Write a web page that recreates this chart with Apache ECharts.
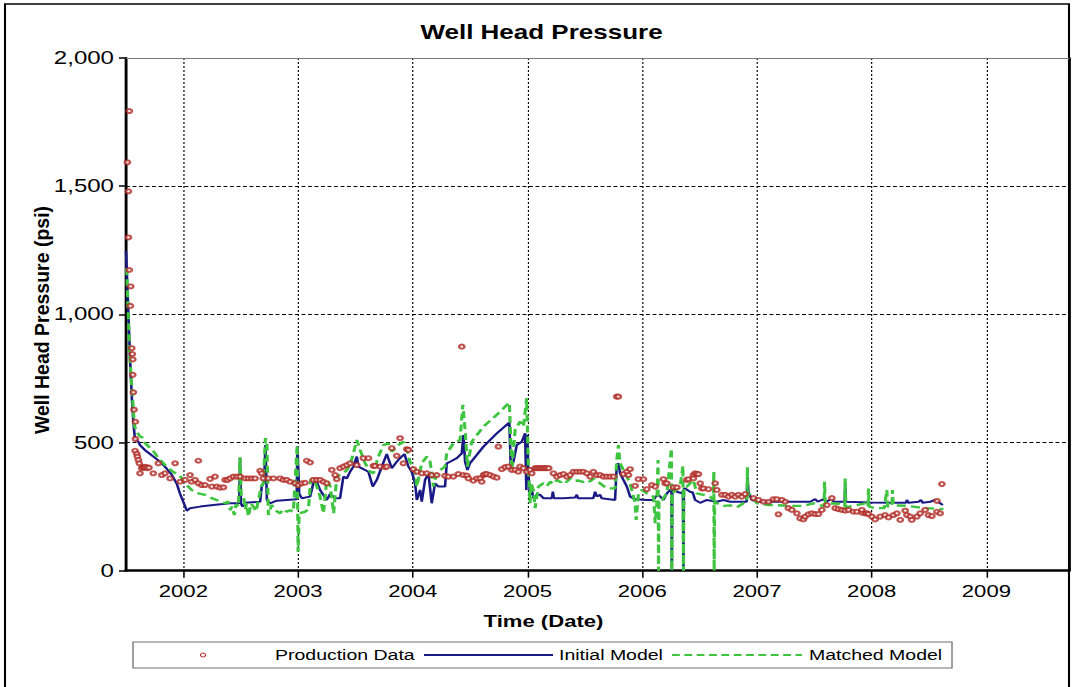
<!DOCTYPE html>
<html>
<head>
<meta charset="utf-8">
<script src="https://cdn.jsdelivr.net/npm/echarts@6/dist/echarts.min.js"></script>
<style>
  html, body { margin: 0; padding: 0; background: #fff; overflow: hidden; }
  #wrap { width: 1072px; height: 687px; overflow: hidden; }
  #chart { height: 687px; transform-origin: 0 0; }
</style>
</head>
<body>
<div id="wrap"><div id="chart"></div></div>
<script>
// The chart is laid out in a narrower box and widened with CSS,
// which gives the broad lettering and oval markers of the original plot.
const STRETCH = 1.3;
const FULL_W = 1072, FULL_H = 687;
const sx = v => v / STRETCH;

const TITLE = 'Well Head Pressure';
const X_NAME = 'Time (Date)';
const Y_NAME = 'Well Head Pressure (psi)';
const SERIES_NAMES = ['Production Data', 'Initial Model', 'Matched Model'];

// x axis: decimal years
const X_MIN = 2001.5, X_MAX = 2009.72;
const yearTicks = [2002, 2003, 2004, 2005, 2006, 2007, 2008, 2009];
const pressureTicks = [0, 500, 1000, 1500, 2000];

// measured well head pressure [year, psi]
const productionData = [
  [2001.529,1793],[2001.512,1593],[2001.521,1480],[2001.521,1300],[2001.529,1173],[2001.541,1109],
  [2001.538,1033],[2001.550,868],[2001.555,845],[2001.559,824],[2001.559,764],[2001.564,696],
  [2001.570,628],[2001.582,581],[2001.582,514],[2001.579,468],[2001.594,456],[2001.599,445],
  [2001.608,432],[2001.616,419],[2001.637,400],[2001.622,380],[2001.649,404],[2001.660,402],
  [2001.672,405],[2001.684,400],[2001.700,402],[2001.738,380],[2001.782,419],[2001.812,373],
  [2001.840,380],[2001.884,360],[2001.928,419],[2001.971,347],[2002.015,354],[2002.058,373],
  [2002.073,347],[2002.102,354],[2002.131,429],[2002.131,341],[2002.160,334],[2002.189,334],
  [2002.233,358],[2002.248,328],[2002.276,367],[2002.291,328],[2002.320,324],[2002.349,325],
  [2002.364,354],[2002.385,354],[2002.407,360],[2002.436,367],[2002.466,367],[2002.494,367],
  [2002.538,360],[2002.567,360],[2002.596,360],[2002.625,360],[2002.669,390],[2002.683,380],
  [2002.697,360],[2002.741,360],[2002.785,360],[2002.843,360],[2002.872,354],[2002.901,354],
  [2002.930,347],[2002.974,341],[2003.003,334],[2003.032,341],[2003.061,343],[2003.076,429],
  [2003.105,422],[2003.133,354],[2003.163,354],[2003.192,354],[2003.221,347],[2003.250,341],
  [2003.294,393],[2003.323,373],[2003.337,357],[2003.366,400],[2003.395,406],[2003.425,412],
  [2003.453,419],[2003.512,412],[2003.569,439],[2003.613,439],[2003.657,409],[2003.671,409],
  [2003.715,406],[2003.758,404],[2003.773,406],[2003.817,478],[2003.889,517],[2003.860,448],
  [2003.918,419],[2003.948,474],[2003.962,471],[2004.005,396],[2004.035,386],[2004.078,380],
  [2004.122,380],[2004.165,373],[2004.209,373],[2004.281,370],[2004.310,367],[2004.354,367],
  [2004.397,377],[2004.427,874],[2004.441,373],[2004.471,371],[2004.485,360],[2004.528,351],
  [2004.558,360],[2004.587,360],[2004.601,347],[2004.616,373],[2004.630,377],[2004.645,377],
  [2004.674,373],[2004.703,367],[2004.732,363],[2004.746,484],[2004.776,396],[2004.805,404],
  [2004.833,406],[2004.863,393],[2004.892,393],[2004.920,386],[2004.935,406],[2004.964,400],
  [2004.993,386],[2005.022,393],[2005.037,380],[2005.066,400],[2005.080,400],[2005.095,400],
  [2005.110,400],[2005.125,400],[2005.140,400],[2005.155,400],[2005.170,400],[2005.185,400],
  [2005.226,380],[2005.255,367],[2005.284,373],[2005.313,377],[2005.343,367],[2005.371,373],
  [2005.400,386],[2005.430,386],[2005.459,386],[2005.487,386],[2005.517,380],[2005.546,367],
  [2005.574,386],[2005.604,373],[2005.633,373],[2005.662,367],[2005.691,367],[2005.720,367],
  [2005.749,367],[2005.778,679],[2005.792,679],[2005.836,377],[2005.866,386],[2005.880,373],
  [2005.894,396],[2005.938,331],[2005.967,357],[2006.010,357],[2006.040,318],[2006.084,334],
  [2006.113,328],[2006.185,357],[2006.200,341],[2006.215,341],[2006.272,325],[2006.302,325],
  [2006.389,354],[2006.403,357],[2006.446,373],[2006.446,360],[2006.461,380],[2006.476,377],
  [2006.490,377],[2006.505,341],[2006.519,321],[2006.534,321],[2006.577,318],[2006.636,341],
  [2006.650,315],[2006.694,296],[2006.723,296],[2006.752,289],[2006.781,296],[2006.810,289],
  [2006.839,296],[2006.868,289],[2006.897,299],[2006.970,283],[2007.013,276],[2007.057,269],
  [2007.101,269],[2007.144,279],[2007.173,279],[2007.187,220],[2007.217,276],[2007.246,269],
  [2007.274,244],[2007.304,237],[2007.348,224],[2007.376,204],[2007.405,200],[2007.420,211],
  [2007.449,220],[2007.478,224],[2007.507,221],[2007.536,221],[2007.566,237],[2007.610,256],
  [2007.653,283],[2007.682,244],[2007.710,240],[2007.740,237],[2007.769,234],[2007.798,237],
  [2007.841,230],[2007.871,230],[2007.915,226],[2007.915,237],[2007.943,224],[2007.958,224],
  [2007.972,221],[2008.002,211],[2008.030,200],[2008.074,211],[2008.117,217],[2008.147,208],
  [2008.190,217],[2008.220,224],[2008.249,198],[2008.292,234],[2008.307,217],[2008.336,211],
  [2008.350,198],[2008.394,211],[2008.423,224],[2008.466,237],[2008.495,217],[2008.525,213],
  [2008.569,230],[2008.597,224],[2008.569,272],[2008.612,338]
];

// initial simulation model [year, psi]
const initialModel = [
  [2001.500,1247],[2001.521,1000],[2001.538,797],[2001.552,666],[2001.564,580],[2001.576,523],
  [2001.590,510],[2001.608,503],[2001.622,490],[2001.666,470],[2001.710,455],[2001.753,440],
  [2001.797,425],[2001.855,398],[2001.898,375],[2001.942,340],[2001.971,300],[2002.000,268],
  [2002.030,234],[2002.058,244],[2002.146,250],[2002.262,256],[2002.407,263],[2002.487,263],
  [2002.494,440],[2002.502,263],[2002.516,250],[2002.538,265],[2002.669,269],[2002.683,328],
  [2002.704,347],[2002.716,490],[2002.728,276],[2002.755,263],[2002.814,273],[2002.988,279],
  [2002.994,484],[2003.010,300],[2003.032,283],[2003.105,289],[2003.133,341],[2003.163,347],
  [2003.192,315],[2003.250,276],[2003.280,300],[2003.323,283],[2003.366,283],[2003.395,367],
  [2003.425,360],[2003.453,386],[2003.482,406],[2003.512,445],[2003.526,406],[2003.569,396],
  [2003.613,386],[2003.651,328],[2003.686,354],[2003.730,406],[2003.773,455],[2003.817,400],
  [2003.860,425],[2003.889,439],[2003.927,455],[2003.962,406],[2003.991,386],[2004.020,341],
  [2004.035,276],[2004.064,315],[2004.078,269],[2004.107,354],[2004.136,380],[2004.165,263],
  [2004.194,341],[2004.223,328],[2004.281,328],[2004.296,419],[2004.325,425],[2004.384,439],
  [2004.427,458],[2004.441,529],[2004.456,425],[2004.476,393],[2004.499,419],[2004.616,484],
  [2004.732,536],[2004.842,578],[2004.854,400],[2004.877,425],[2004.906,490],[2004.950,503],
  [2004.979,536],[2004.990,315],[2004.998,530],[2005.007,380],[2005.022,296],[2005.037,315],
  [2005.051,283],[2005.081,296],[2005.110,296],[2005.139,283],[2005.212,283],[2005.221,308],
  [2005.230,283],[2005.313,283],[2005.415,286],[2005.430,296],[2005.440,283],[2005.574,283],
  [2005.589,308],[2005.604,290],[2005.633,296],[2005.645,283],[2005.763,276],[2005.778,412],
  [2005.792,419],[2005.807,380],[2005.836,354],[2005.866,328],[2005.894,289],[2005.938,279],
  [2006.040,276],[2006.098,276],[2006.120,290],[2006.142,296],[2006.185,276],[2006.215,302],
  [2006.243,315],[2006.255,318],[2006.258,0],[2006.262,320],[2006.272,321],[2006.302,308],
  [2006.345,302],[2006.355,310],[2006.359,0],[2006.363,320],[2006.374,321],[2006.417,308],
  [2006.440,305],[2006.461,276],[2006.505,265],[2006.563,276],[2006.650,269],[2006.708,276],
  [2006.766,269],[2006.853,269],[2006.910,269],[2006.917,364],[2006.926,308],[2006.955,276],
  [2006.999,269],[2007.289,269],[2007.464,269],[2007.507,279],[2007.530,269],[2007.580,279],
  [2007.600,269],[2007.653,279],[2007.670,269],[2007.765,269],[2007.769,340],[2007.775,269],
  [2007.987,266],[2008.190,265],[2008.300,265],[2008.307,276],[2008.320,265],[2008.409,269],
  [2008.429,276],[2008.445,265],[2008.510,269],[2008.554,276],[2008.597,263],[2008.620,256]
];

// history-matched simulation model [year, psi]
const matchedModel = [
  [2001.506,1180],[2001.523,959],[2001.529,865],[2001.544,763],[2001.559,662],[2001.573,568],
  [2001.588,547],[2001.616,527],[2001.640,520],[2001.666,497],[2001.730,471],[2001.797,432],
  [2001.855,406],[2001.913,385],[2001.971,370],[2002.015,341],[2002.073,315],[2002.131,302],
  [2002.189,296],[2002.248,283],[2002.305,273],[2002.364,263],[2002.390,270],[2002.410,236],
  [2002.422,250],[2002.445,217],[2002.460,260],[2002.480,250],[2002.494,442],[2002.505,289],
  [2002.525,289],[2002.540,240],[2002.552,263],[2002.567,211],[2002.590,262],[2002.610,250],
  [2002.635,232],[2002.654,276],[2002.680,330],[2002.697,341],[2002.715,517],[2002.728,500],
  [2002.741,217],[2002.770,256],[2002.800,236],[2002.843,224],[2002.870,240],[2002.901,230],
  [2002.930,236],[2002.959,230],[2002.992,490],[2003.000,74],[2003.010,224],[2003.061,230],
  [2003.090,240],[2003.110,354],[2003.133,360],[2003.163,330],[2003.192,289],[2003.221,224],
  [2003.250,354],[2003.280,330],[2003.310,224],[2003.337,367],[2003.395,380],[2003.425,393],
  [2003.453,412],[2003.482,458],[2003.512,510],[2003.541,471],[2003.584,419],[2003.628,386],
  [2003.657,380],[2003.700,445],[2003.744,490],[2003.787,497],[2003.817,464],[2003.874,490],
  [2003.918,503],[2003.948,471],[2003.976,425],[2004.020,393],[2004.035,328],[2004.078,419],
  [2004.122,445],[2004.151,425],[2004.180,328],[2004.209,380],[2004.238,393],[2004.281,406],
  [2004.296,458],[2004.354,497],[2004.412,510],[2004.436,647],[2004.456,549],[2004.476,406],
  [2004.514,503],[2004.616,562],[2004.732,608],[2004.842,656],[2004.863,393],[2004.892,549],
  [2004.935,582],[2004.964,562],[2004.993,673],[2005.007,406],[2005.022,263],[2005.030,341],
  [2005.051,315],[2005.066,244],[2005.095,328],[2005.139,341],[2005.170,330],[2005.197,347],
  [2005.230,338],[2005.255,354],[2005.290,345],[2005.313,354],[2005.340,346],[2005.371,360],
  [2005.400,350],[2005.440,352],[2005.480,346],[2005.517,354],[2005.545,348],[2005.574,360],
  [2005.633,341],[2005.691,321],[2005.763,321],[2005.778,432],[2005.792,490],[2005.807,419],
  [2005.836,393],[2005.866,367],[2005.894,341],[2005.938,263],[2005.947,198],[2005.967,302],
  [2005.996,315],[2006.040,302],[2006.098,289],[2006.113,185],[2006.127,257],[2006.138,432],
  [2006.142,0],[2006.146,276],[2006.171,276],[2006.215,302],[2006.254,477],[2006.258,0],
  [2006.262,302],[2006.330,328],[2006.355,409],[2006.359,0],[2006.363,328],[2006.389,328],
  [2006.446,354],[2006.476,302],[2006.534,296],[2006.592,289],[2006.620,276],[2006.624,386],
  [2006.627,0],[2006.631,270],[2006.650,263],[2006.708,253],[2006.766,255],[2006.824,247],
  [2006.882,263],[2006.913,270],[2006.917,404],[2006.921,300],[2006.941,296],[2006.970,283],
  [2006.999,263],[2007.100,256],[2007.144,256],[2007.289,253],[2007.405,253],[2007.493,263],
  [2007.540,258],[2007.585,250],[2007.589,347],[2007.596,260],[2007.667,263],[2007.720,260],
  [2007.765,250],[2007.769,360],[2007.775,248],[2007.871,256],[2007.943,263],[2007.968,250],
  [2007.972,321],[2007.978,250],[2008.030,244],[2008.110,244],[2008.132,315],[2008.140,250],
  [2008.176,250],[2008.181,315],[2008.188,255],[2008.307,253],[2008.409,247],[2008.481,244],
  [2008.626,240]
];

const COLORS = { production: '#b02a25', initial: '#1a1a86', matched: '#3ec43e' };
const FONT = "'Liberation Sans', Arial, sans-serif";

const el = document.getElementById('chart');
el.style.width = (FULL_W / STRETCH) + 'px';
el.style.transform = 'scaleX(' + STRETCH + ')';

const chart = echarts.init(el, null, { renderer: 'svg', width: FULL_W / STRETCH, height: FULL_H });

// plot frame, in full-width pixels
const PLOT = { left: 126, right: 1069, top: 58, bottom: 570.7 };
const LEGEND = { x: 133, y: 642, w: 819, h: 26 };
const LEGEND_MID = LEGEND.y + LEGEND.h / 2;

const option = {
  animation: false,
  backgroundColor: '#fff',
  grid: {
    left: sx(PLOT.left),
    right: sx(FULL_W - PLOT.right),
    top: PLOT.top,
    bottom: FULL_H - PLOT.bottom,
    containLabel: false
  },
  xAxis: [
    {
      type: 'value',
      min: X_MIN,
      max: X_MAX,
      axisLine: { show: true, onZero: false, lineStyle: { color: '#000', width: 2.6 } },
      axisTick: { show: true, customValues: yearTicks, length: 7, lineStyle: { color: '#000', width: 1.2 } },
      axisLabel: {
        customValues: yearTicks,
        formatter: v => String(Math.round(v)),
        color: '#000', fontSize: 17, fontFamily: FONT, margin: 12
      },
      splitLine: { show: true, lineStyle: { color: '#000', width: 0.9, type: [2, 2] } }
    },
    {
      type: 'value',
      position: 'top',
      min: X_MIN,
      max: X_MAX,
      axisLine: { show: true, onZero: false, lineStyle: { color: '#7a7a7a', width: 1 } },
      axisTick: { show: false },
      axisLabel: { show: false },
      splitLine: { show: false }
    }
  ],
  yAxis: [
    {
      type: 'value',
      min: pressureTicks[0],
      max: pressureTicks[pressureTicks.length - 1],
      interval: 500,
      axisLine: { show: true, onZero: false, lineStyle: { color: '#000', width: 2.2 } },
      axisTick: { show: true, length: sx(7), lineStyle: { color: '#000', width: 1.5 } },
      axisLabel: { color: '#000', fontSize: 18.5, fontFamily: FONT, margin: sx(12) },
      splitLine: { show: true, lineStyle: { color: '#000', width: 1, type: [3, 2] } }
    },
    {
      type: 'value',
      position: 'right',
      min: pressureTicks[0],
      max: pressureTicks[pressureTicks.length - 1],
      axisLine: { show: true, onZero: false, lineStyle: { color: '#000', width: 1.5 } },
      axisTick: { show: false },
      axisLabel: { show: false },
      splitLine: { show: false }
    }
  ],
  series: [
    {
      name: SERIES_NAMES[1],
      type: 'line',
      data: initialModel,
      showSymbol: false,
      lineStyle: { color: COLORS.initial, width: 2 },
      z: 2
    },
    {
      name: SERIES_NAMES[2],
      type: 'line',
      data: matchedModel,
      showSymbol: false,
      lineStyle: { color: COLORS.matched, width: 2.4, type: [7, 4] },
      z: 3
    },
    {
      name: SERIES_NAMES[0],
      type: 'scatter',
      data: productionData,
      symbol: 'emptyCircle',
      symbolSize: 4,
      itemStyle: { color: COLORS.production, borderColor: COLORS.production, borderWidth: 0.8 },
      z: 4
    }
  ],
  graphic: [
    // outer frame
    {
      type: 'rect', silent: true,
      shape: { x: sx(5), y: 4, width: sx(PLOT.right - 5), height: 690 },
      style: { fill: 'none', stroke: '#000', lineWidth: 1.6 }
    },
    // title and axis names
    {
      type: 'text', silent: true, x: sx(541.5), y: 32,
      style: { text: TITLE, font: "bold 20px " + FONT, fill: '#000', align: 'center', verticalAlign: 'middle' }
    },
    {
      type: 'text', silent: true, x: sx(543.5), y: 621,
      style: { text: X_NAME, font: "bold 17px " + FONT, fill: '#000', align: 'center', verticalAlign: 'middle' }
    },
    {
      // upright axis name: its glyph height runs across the page, so undo the widening
      type: 'text', silent: true, x: sx(42.5), y: 320, rotation: Math.PI / 2, scaleY: 1 / STRETCH,
      style: { text: Y_NAME, font: "bold 19.5px " + FONT, fill: '#000', align: 'center', verticalAlign: 'middle' }
    },
    // legend
    {
      type: 'rect', silent: true,
      shape: { x: sx(LEGEND.x), y: LEGEND.y, width: sx(LEGEND.w), height: LEGEND.h },
      style: { fill: '#fff', stroke: '#6e6e6e', lineWidth: 1 }
    },
    {
      type: 'circle', silent: true,
      shape: { cx: sx(203), cy: LEGEND_MID, r: 2 },
      style: { fill: '#fff', stroke: COLORS.production, lineWidth: 0.9 }
    },
    {
      type: 'text', silent: true, x: sx(275), y: LEGEND_MID,
      style: { text: SERIES_NAMES[0], font: "15px " + FONT, fill: '#000', align: 'left', verticalAlign: 'middle' }
    },
    {
      type: 'line', silent: true,
      shape: { x1: sx(424), y1: LEGEND_MID, x2: sx(553), y2: LEGEND_MID },
      style: { stroke: COLORS.initial, lineWidth: 2 }
    },
    {
      type: 'text', silent: true, x: sx(559), y: LEGEND_MID,
      style: { text: SERIES_NAMES[1], font: "15px " + FONT, fill: '#000', align: 'left', verticalAlign: 'middle' }
    },
    {
      type: 'line', silent: true,
      shape: { x1: sx(672), y1: LEGEND_MID, x2: sx(802), y2: LEGEND_MID },
      style: { stroke: COLORS.matched, lineWidth: 2, lineDash: [6, 3.5] }
    },
    {
      type: 'text', silent: true, x: sx(809), y: LEGEND_MID,
      style: { text: SERIES_NAMES[2], font: "15px " + FONT, fill: '#000', align: 'left', verticalAlign: 'middle' }
    }
  ]
};

chart.setOption(option);
</script>
</body>
</html>
